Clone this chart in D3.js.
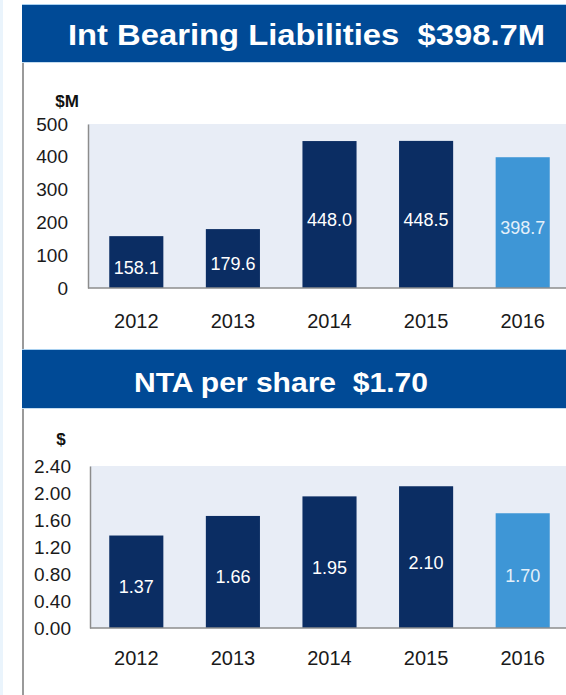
<!DOCTYPE html>
<html>
<head>
<meta charset="utf-8">
<script src="https://cdn.jsdelivr.net/npm/d3@7"></script>
<style>
  body { margin: 0; background: #fff; }
  svg { display: block; font-family: "Liberation Sans", Arial, sans-serif; }
  .title { white-space: pre; }
</style>
</head>
<body>
<svg width="566" height="695"></svg>
<script>
var years = ['2012', '2013', '2014', '2015', '2016'];
var liabilities = [158.1, 179.6, 448.0, 448.5, 398.7];
var liabLabels = ['158.1', '179.6', '448.0', '448.5', '398.7'];
var liabTicks = [0, 100, 200, 300, 400, 500];
var nta = [1.37, 1.66, 1.95, 2.10, 1.70];
var ntaLabels = ['1.37', '1.66', '1.95', '2.10', '1.70'];
var ntaTicks = [0, 0.4, 0.8, 1.2, 1.6, 2.0, 2.4];

var navy = '#0b2d63', light = '#3e96d6', headerBlue = '#004a96', plotBg = '#e8edf6';

var svg = d3.select('svg');

// faint strip at far left and the grey frame line
svg.append('rect').attr('x', 0).attr('y', 0).attr('width', 3).attr('height', 695).style('fill', '#eaf4fc');
svg.append('line').attr('x1', 23).attr('x2', 23).attr('y1', 62).attr('y2', 695)
    .style('stroke', '#9a9a9a').style('stroke-width', 2);

var header = function(y0, y1, text, cx, base, size, len) {
    svg.append('line').attr('x1', 22).attr('x2', 566).attr('y1', y0 - 0.5).attr('y2', y0 - 0.5)
        .style('stroke', '#a8d0f0');
    svg.append('rect').attr('x', 22).attr('y', y0).attr('width', 544).attr('height', y1 - y0)
        .style('fill', headerBlue);
    svg.append('line').attr('x1', 22).attr('x2', 566).attr('y1', y1 + 0.5).attr('y2', y1 + 0.5)
        .style('stroke', '#c4dcef');
    svg.append('text')
        .attr('class', 'title')
        .attr('xml:space', 'preserve')
        .text(text)
        .attr('x', cx)
        .attr('y', base)
        .attr('text-anchor', 'middle')
        .attr('textLength', len)
        .attr('lengthAdjust', 'spacingAndGlyphs')
        .style('font-size', size + 'px')
        .style('font-weight', 'bold')
        .style('fill', '#fff');
};

header(5, 62, 'Int Bearing Liabilities  $398.7M', 306.5, 45, 30, 477);
header(350, 408, 'NTA per share  $1.70', 281, 392, 28.5, 294);

var x = d3.scaleBand()
    .domain(years)
    .range([88, 571])
    .paddingInner(0.44)
    .paddingOuter(0.22);

var drawChart = function(opts) {
    var y = d3.scaleLinear().domain(opts.domain).range([opts.bottom, opts.top]);
    var g = svg.append('g');

    g.append('rect')
        .attr('x', opts.left)
        .attr('y', opts.top)
        .attr('width', 566 - opts.left)
        .attr('height', opts.bottom - opts.top)
        .style('fill', plotBg);

    g.selectAll('.bar')
        .data(opts.values)
        .enter()
        .append('rect')
        .attr('class', 'bar')
        .attr('x', function(d, i) { return x(years[i]) })
        .attr('y', function(d) { return y(d) })
        .attr('width', x.bandwidth())
        .attr('height', function(d) { return opts.bottom - y(d) })
        .style('fill', function(d, i) { return i === years.length - 1 ? light : navy });

    g.selectAll('.val')
        .data(opts.values)
        .enter()
        .append('text')
        .attr('class', 'val')
        .text(function(d, i) { return opts.labels[i] })
        .attr('x', function(d, i) { return x(years[i]) + x.bandwidth() / 2 })
        .attr('y', function(d) { return (y(d) + opts.bottom) / 2 + 11.5 })
        .attr('text-anchor', 'middle')
        .style('font-size', '18px')
        .style('fill', function(d, i) { return i === years.length - 1 ? '#e4f0fa' : '#fff' });

    var yAxis = g.append('g')
        .attr('transform', 'translate(' + opts.left + ',0)')
        .call(d3.axisLeft(y).tickValues(opts.ticks).tickSize(0).tickPadding(opts.left - opts.labelRight)
            .tickFormat(opts.fmt));
    yAxis.select('.domain').style('stroke', '#8c8c8c').style('stroke-width', 1.5);
    yAxis.selectAll('text').style('font-size', '19px').style('fill', '#1a1a1a')
        .style('font-family', '"Liberation Sans", Arial, sans-serif');

    g.append('line')
        .attr('x1', opts.left).attr('x2', 566)
        .attr('y1', opts.bottom).attr('y2', opts.bottom)
        .style('stroke', '#8c8c8c').style('stroke-width', 1.5);

    var xAxis = g.append('g')
        .attr('transform', 'translate(0,' + opts.bottom + ')')
        .call(d3.axisBottom(x).tickSize(0).tickPadding(opts.yearPad));
    xAxis.select('.domain').remove();
    xAxis.selectAll('text').style('font-size', '20px').style('fill', '#1a1a1a')
        .style('font-family', '"Liberation Sans", Arial, sans-serif');

    svg.append('text')
        .text(opts.unit)
        .attr('x', opts.unitX)
        .attr('y', opts.unitY)
        .attr('text-anchor', 'middle')
        .style('font-size', '17px')
        .style('font-weight', 'bold')
        .style('fill', '#111');
};

drawChart({
    values: liabilities, labels: liabLabels, ticks: liabTicks, domain: [0, 500],
    fmt: d3.format('d'), top: 124, bottom: 288, left: 88, labelRight: 68, yearPad: 26,
    unit: '$M', unitX: 67, unitY: 107
});

drawChart({
    values: nta, labels: ntaLabels, ticks: ntaTicks, domain: [0, 2.4],
    fmt: d3.format('.2f'), top: 466, bottom: 628, left: 90, labelRight: 71, yearPad: 23,
    unit: '$', unitX: 61, unitY: 445
});
</script>
</body>
</html>
